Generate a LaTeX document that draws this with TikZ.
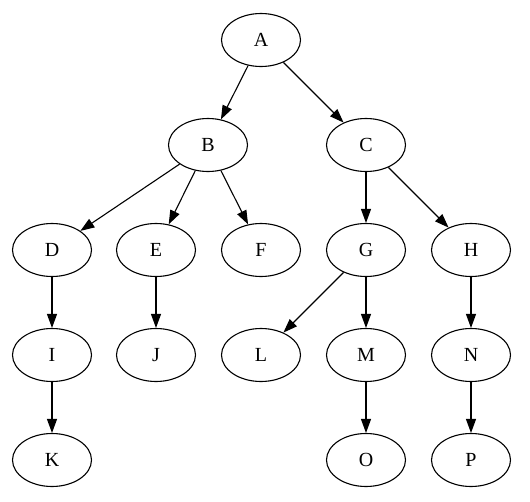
\documentclass[tikz,border=0pt]{standalone}
\usepackage{fontspec}
\setmainfont{Liberation Serif}
\usepackage{tikz}
\usetikzlibrary{shapes.geometric,arrows.meta}

\begin{document}
\begin{tikzpicture}[x=1pt,y=-1pt,
  vert/.style={draw,ellipse,line width=1.1pt,minimum width=79pt,minimum height=53pt,inner sep=0pt,font=\fontsize{20}{20}\selectfont},
  edge/.style={-{Triangle[length=14pt,width=10pt]},line width=1.1pt}]
\useasboundingbox (0,0) rectangle (530,501);
% level 0 and 1
\node[vert] (A) at (261,40) {A};
\node[vert] (B) at (208,145) {B};
\node[vert] (C) at (366,145) {C};
% level 2
\node[vert] (D) at (52,250) {D};
\node[vert] (E) at (156,250) {E};
\node[vert] (F) at (261,250) {F};
\node[vert] (G) at (366,250) {G};
\node[vert] (H) at (471,250) {H};
% level 3
\node[vert] (I) at (52,355) {I};
\node[vert] (J) at (156,355) {J};
\node[vert] (L) at (261,355) {L};
\node[vert] (M) at (366,355) {M};
\node[vert] (N) at (471,355) {N};
% level 4
\node[vert] (K) at (52,460) {K};
\node[vert] (O) at (366,460) {O};
\node[vert] (P) at (471,460) {P};
\draw[edge] (A) -- (B);
\draw[edge] (A) -- (C);
\draw[edge] (B) -- (D);
\draw[edge] (B) -- (E);
\draw[edge] (B) -- (F);
\draw[edge] (C) -- (G);
\draw[edge] (C) -- (H);
\draw[edge] (D) -- (I);
\draw[edge] (E) -- (J);
\draw[edge] (G) -- (L);
\draw[edge] (G) -- (M);
\draw[edge] (H) -- (N);
\draw[edge] (I) -- (K);
\draw[edge] (M) -- (O);
\draw[edge] (N) -- (P);
\end{tikzpicture}
\end{document}
